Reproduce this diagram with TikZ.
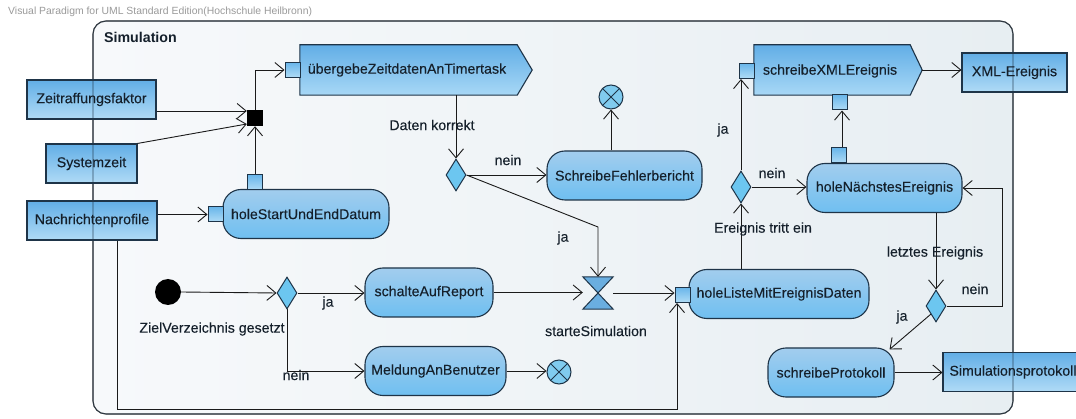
\documentclass[tikz,border=0pt]{standalone}
\usepackage{fontspec}
\setmainfont{Liberation Sans}
\usetikzlibrary{arrows.meta,shapes.geometric,calc}

\definecolor{bordc}{HTML}{1E3448}
\definecolor{flowc}{HTML}{1A1A1A}
\definecolor{txtc}{HTML}{15202B}
\definecolor{objtop}{HTML}{62AEE6}
\definecolor{objbot}{HTML}{B0DBF6}
\definecolor{acttop}{HTML}{A2CDEE}
\definecolor{actbot}{HTML}{6FBFF0}
\definecolor{sigtop}{HTML}{62AEE6}
\definecolor{sigbot}{HTML}{A8D8F6}
\definecolor{pintop}{HTML}{6AB6EA}
\definecolor{pinbot}{HTML}{B0DCF6}
\definecolor{deccol}{HTML}{6CC6F0}
\definecolor{hgc}{HTML}{6AAEE0}
\definecolor{ffc}{HTML}{80CBEF}
\definecolor{frmL}{HTML}{F7F9FB}
\definecolor{frmR}{HTML}{E7EEF2}
\definecolor{frmline}{HTML}{3C3C3C}
\definecolor{hdrc}{HTML}{9A9A9A}

\newcommand\nodefont{\fontsize{14.2}{16}\selectfont\addfontfeature{FakeBold=0.15}}

\tikzset{
  lbl/.style={font=\nodefont, text=txtc, inner sep=0},
  obj/.style={draw=bordc, line width=1.1pt, top color=objtop, bottom color=objbot,
    minimum height=39pt, inner sep=0, font=\nodefont, text=txtc},
  act/.style={draw=bordc, line width=1.1pt, rounded corners=18pt, top color=acttop,
    bottom color=actbot, minimum height=49pt, inner sep=0, font=\nodefont, text=txtc},
  sig/.style={draw=bordc, line width=1.1pt, top color=sigtop, bottom color=sigbot},
  pinbox/.style={draw=bordc, line width=1pt, top color=pintop, bottom color=pinbot,
    minimum size=15pt, inner sep=0},
  dec/.style={diamond, draw=bordc, fill=deccol, line width=1pt,
    minimum width=20pt, minimum height=32pt, inner sep=0},
  ffin/.style={circle, draw=bordc, fill=ffc, line width=1pt, minimum size=24pt, inner sep=0},
  flow/.style={draw=flowc, line width=0.9pt, -{Straight Barb[length=9pt,width=15pt]}},
  frameline/.style={frmline, line width=1.1pt, rounded corners=13pt},
}

\begin{document}
\begin{tikzpicture}[x=1pt,y=-1pt]
\useasboundingbox (0,0) rectangle (1076,419);
\clip (0,0) rectangle (1076,419);
\fill[white] (0,0) rectangle (1076,419);

\node[anchor=west, text=hdrc, font=\fontsize{10.4}{12}\selectfont, inner sep=0] (hdr) at (8,12)
  {Visual Paradigm for UML Standard Edition(Hochschule Heilbronn)};

% activity frame
\shade[left color=frmL, right color=frmR, rounded corners=13pt] (93,21) rectangle (1013,414);
\draw[frameline] (93,21) rectangle (1013,414);
\node[anchor=west, font=\bfseries\fontsize{14.2}{16}\selectfont, text=txtc, inner sep=0] (title) at (104,37) {Simulation};

% object nodes
\node[obj, minimum width=129pt] (zf) at (91.5,99.5) {};
\node[obj, minimum width=91pt] (sz) at (91.5,163.5) {};
\node[obj, minimum width=130pt] (np) at (92,220.5) {};
\node[obj, minimum width=105pt] (xml) at (1014.5,72.5) {};
\node[obj, minimum width=140pt] (sp) at (1013,372) {};
% frame border shows faintly through the object nodes
\draw[frameline, draw=bordc, draw opacity=0.45] (93,21) rectangle (1013,414);
\node[lbl] (zft) at (zf) {Zeitraffungsfaktor};
\node[lbl] (szt) at (sz) {Systemzeit};
\node[lbl] (npt) at (np) {Nachrichtenprofile};
\node[lbl] (xmlt) at (xml) {XML-Ereignis};
\node[lbl] (spt) at (sp) {Simulationsprotokoll};

% actions
\node[act, minimum width=166pt] (hs) at (306,214) {holeStartUndEndDatum};
\node[act, minimum width=155pt] (fb) at (624.5,175.5) {SchreibeFehlerbericht};
\node[act, minimum width=128pt] (sr) at (429,292.5) {schalteAufReport};
\node[act, minimum width=141pt] (mb) at (435.5,371) {MeldungAnBenutzer};
\node[act, minimum width=180pt] (hl) at (779,294) {holeListeMitEreignisDaten};
\node[act, minimum width=155pt] (hn) at (884.5,188) {holeNächstesEreignis};
\node[act, minimum width=126pt] (pr) at (831,372.5) {schreibeProtokoll};

% send signal actions
\node[inner sep=0, minimum width=217pt, minimum height=50pt] (ub) at (408.5,70) {};
\shadedraw[sig] (ub.north west) -- (ub.north east) -- ($(ub.east)+(15,0)$) -- (ub.south east) -- (ub.south west) -- cycle;
\node[lbl] (ubt) at (407,70) {übergebeZeitdatenAnTimertask};
\coordinate (ubtip) at ($(ub.east)+(15,0)$);

\node[inner sep=0, minimum width=156pt, minimum height=50pt] (sx) at (832,70) {};
\shadedraw[sig] (sx.north west) -- (sx.north east) -- ($(sx.east)+(12,0)$) -- (sx.south east) -- (sx.south west) -- cycle;
\node[lbl] (sxt) at (830,71) {schreibeXMLEreignis};
\coordinate (sxtip) at ($(sx.east)+(12,0)$);

% pins
\node[pinbox] (pub) at (292.5,70) {};
\node[pinbox] (phst) at (255,182.5) {};
\node[pinbox] (phsl) at (215.5,214.5) {};
\node[pinbox] (phl) at (682.5,295) {};
\node[pinbox] (psxl) at (746.5,71) {};
\node[pinbox] (psxb) at (840,102.5) {};
\node[pinbox] (phnt) at (838.5,155.5) {};

% join bar
\node[fill=black, minimum size=16pt, inner sep=0] (jn) at (255,118) {};

% decisions
\node[dec] (d0) at (287,293) {};
\node[dec] (d1) at (456,175) {};
\node[dec] (d2) at (741,187) {};
\node[dec] (d3) at (936,306) {};

% initial and final nodes
\node[circle, fill=black, minimum size=26pt, inner sep=0] (ini) at (168,292) {};
\node[ffin] (ff1) at (611,97) {};
\draw[bordc, line width=1pt] (ff1.north west) -- (ff1.south east) (ff1.north east) -- (ff1.south west);
\node[ffin] (ff2) at (559,372) {};
\draw[bordc, line width=1pt] (ff2.north west) -- (ff2.south east) (ff2.north east) -- (ff2.south west);

% time event
\node[inner sep=0, minimum width=30pt, minimum height=32pt] (hg) at (598,293) {};
\filldraw[fill=hgc, draw=bordc, line width=1pt] (hg.north west) -- (hg.north east) -- (hg.south west) -- (hg.south east) -- cycle;

% flows
\coordinate (zfo) at ([yshift=-11.5pt]zf.east);
\draw[flow] (zfo) -- (zfo -| jn.west);
\draw[flow] (sz.north east) -- ([yshift=-6pt]jn.west);
\draw[flow] (phst.north) -- (jn.south);
\draw[flow] (jn.north) |- (pub.west);
\draw[flow] (np.east |- phsl.west) -- (phsl.west);

\draw[flow] (ub.south -| d1.north) -- (d1.north);
\draw[flow] (d1.east) -- (d1.east -| fb.west);
\draw[flow] (fb.north -| ff1.south) -- (ff1.south);
\coordinate (k1) at (598,227);
\draw[flow] (d1.east) -- (k1) -- (hg.north);

\draw[flow] (ini.east) -- (d0.west);
\draw[flow] (d0.east) -- (d0.east -| sr.west);
\draw[flow] (d0.south) |- (mb.west);
\draw[flow] (sr.east) -- (sr.east -| hg.west);
\draw[flow] (mb.east) -- (mb.east -| ff2.west);
\draw[flow] (hg.east) -- (hg.east -| phl.west);

\coordinate (npb) at ([xshift=25pt]np.south);
\coordinate (c1) at (117,409);
\coordinate (c2) at (677,409);
\draw[flow] (npb) -- (c1) -- (c2) -- (c2 |- phl.south);

\draw[flow] (hl.north -| d2.south) -- (d2.south);
\draw[flow] (d2.north) -- (d2.north |- psxl.south);
\draw[flow] (d2.east) -- (d2.east -| hn.west);
\draw[flow] ([xshift=3.5pt]phnt.north) -- ([xshift=3.5pt]phnt.north |- psxb.south);
\draw[flow] (sxtip) -- (sxtip -| xml.west);

\draw[flow] (hn.south -| d3.north) -- (d3.north);
\coordinate (rt) at (1002,188);
\draw[flow] (d3.east) -| (rt) -- (hn.east);
\draw[flow] (d3.south west) -- ([shift={(-5pt,-2pt)}]pr.north east);
\draw[flow] (pr.east) -- (pr.east -| sp.west);

% guard labels
\node[lbl] (l1) at (432,125) {Daten korrekt};
\node[lbl] (l2) at (508,160) {nein};
\node[lbl] (l3) at (563,238) {ja};
\node[lbl] (l4) at (212,329) {ZielVerzeichnis gesetzt};
\node[lbl] (l5) at (328,303) {ja};
\node[lbl] (l6) at (296,375) {nein};
\node[lbl] (l7) at (596,331) {starteSimulation};
\node[lbl] (l8) at (763,229) {Ereignis tritt ein};
\node[lbl] (l9) at (723,130) {ja};
\node[lbl] (l10) at (772,173) {nein};
\node[lbl] (l11) at (935,253) {letztes Ereignis};
\node[lbl] (l12) at (975,289) {nein};
\node[lbl] (l13) at (902,317) {ja};
\end{tikzpicture}
\end{document}
